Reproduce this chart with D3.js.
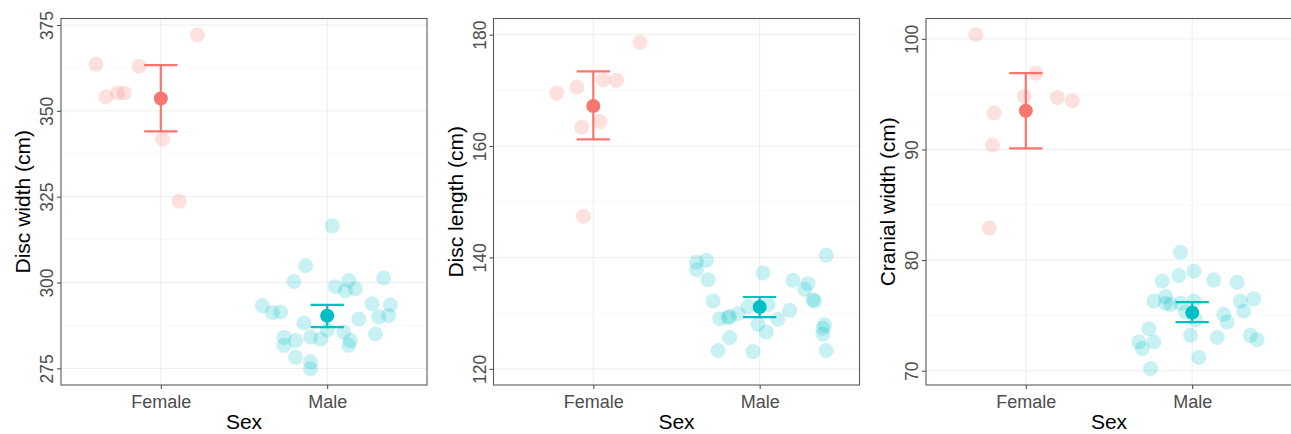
<!DOCTYPE html>
<html>
<head>
<meta charset="utf-8">
<script src="https://cdn.jsdelivr.net/npm/d3@7"></script>
<style>
  html, body { margin: 0; padding: 0; background: #fff; }
  svg { display: block; font-family: "Liberation Sans", Arial, Helvetica, sans-serif; }
</style>
</head>
<body>
<div id="chart"></div>
<script>
// --- data ---
const categories = ["Female", "Male"];
const colors = ["#F8766D", "#00BFC4"];

// disc width
const dwFemale = [363.6, 354.1, 355.2, 355.2, 363.0, 372.1, 341.8, 323.7];
const dwFemaleJit = [-0.39, -0.33, -0.26, -0.22, -0.13, 0.22, 0.01, 0.11];
const dwMale = [304.9, 300.3, 293.2, 291.3, 291.4, 288.2, 284.0, 281.7, 283.1, 278.2,
  284.1, 276.9, 274.9, 283.5, 286.2, 298.8, 300.6, 297.6, 298.2, 285.6,
  283.1, 281.7, 289.4, 293.8, 285.0, 301.3, 290.0, 290.4, 293.5, 316.5];
const dwMaleJit = [-0.13, -0.20, -0.39, -0.33, -0.28, -0.14, -0.26, -0.26, -0.19, -0.19,
  -0.10, -0.10, -0.10, -0.04, 0.00, 0.05, 0.13, 0.11, 0.17, 0.10,
  0.14, 0.13, 0.19, 0.27, 0.29, 0.34, 0.31, 0.37, 0.38, 0.03];
const dwMean = [353.6, 290.3];
const dwLow = [344.0, 287.0];
const dwHigh = [363.3, 293.5];
const dwTicks = [275, 300, 325, 350, 375];

// disc length
const dlFemale = [169.5, 170.6, 163.4, 164.4, 171.9, 171.8, 178.6, 147.4];
const dlFemaleJit = [-0.22, -0.10, -0.07, 0.04, 0.06, 0.14, 0.28, -0.06];
const dlMale = [139.2, 139.5, 137.8, 136.0, 132.2, 129.0, 129.2, 129.4, 129.9, 125.6,
  123.3, 123.1, 137.2, 131.2, 131.5, 128.0, 126.6, 128.9, 130.5, 135.9,
  135.3, 134.3, 132.4, 132.2, 140.4, 127.9, 127.3, 126.2, 123.3];
const dlMaleJit = [-0.38, -0.32, -0.38, -0.31, -0.28, -0.24, -0.19, -0.18, -0.13, -0.18,
  -0.25, -0.04, 0.02, -0.07, 0.05, -0.01, 0.04, 0.11, 0.18, 0.20,
  0.29, 0.27, 0.32, 0.33, 0.40, 0.39, 0.38, 0.38, 0.40];
const dlMean = [167.2, 131.1];
const dlLow = [161.2, 129.3];
const dlHigh = [173.4, 132.9];
const dlTicks = [120, 140, 160, 180];

// cranial width
const cwFemale = [100.4, 93.3, 90.4, 82.9, 94.8, 96.9, 94.7, 94.4];
const cwFemaleJit = [-0.30, -0.19, -0.20, -0.22, -0.01, 0.06, 0.19, 0.28];
const cwMale = [80.7, 78.1, 78.6, 79.0, 78.2, 78.0, 76.3, 76.7, 76.1, 76.0,
  76.1, 75.3, 76.3, 74.6, 73.2, 71.2, 73.0, 75.1, 74.4, 76.3,
  75.4, 76.5, 73.2, 72.8, 73.8, 72.6, 72.0, 72.6, 70.2];
const cwMaleJit = [-0.07, -0.18, -0.08, 0.01, 0.13, 0.27, -0.23, -0.16, -0.16, -0.13,
  -0.07, -0.04, 0.01, 0.02, -0.01, 0.04, 0.15, 0.19, 0.21, 0.29,
  0.31, 0.37, 0.35, 0.39, -0.26, -0.32, -0.30, -0.23, -0.25];
const cwMean = [93.5, 75.25];
const cwLow = [90.1, 74.4];
const cwHigh = [96.9, 76.2];
const cwTicks = [70, 80, 90, 100];

// --- panels ---
const W = 1291, H = 434;
const svg = d3.select("#chart").append("svg").attr("width", W).attr("height", H);

const panels = [
  { title: "Disc width (cm)", left: 61, domain: [270.15, 376.9], ticks: dwTicks,
    pts: [[dwFemale, dwFemaleJit], [dwMale, dwMaleJit]], mean: dwMean, lo: dwLow, hi: dwHigh },
  { title: "Disc length (cm)", left: 493.5, domain: [117.1, 182.9], ticks: dlTicks,
    pts: [[dlFemale, dlFemaleJit], [dlMale, dlMaleJit]], mean: dlMean, lo: dlLow, hi: dlHigh },
  { title: "Cranial width (cm)", left: 926, domain: [68.71, 101.84], ticks: cwTicks,
    pts: [[cwFemale, cwFemaleJit], [cwMale, cwMaleJit]], mean: cwMean, lo: cwLow, hi: cwHigh }
];

const pw = 366, panelTop = 18.5, panelBottom = 385;

panels.forEach(p => {
  const g = svg.append("g").attr("transform", `translate(${p.left},${panelTop})`);
  const ih = panelBottom - panelTop;

  // ggplot discrete scale: 0.6 expansion each side
  const xi = d3.scaleLinear().domain([0.4, 2.6]).range([0, pw]);
  const xc = c => xi(categories.indexOf(c) + 1);
  const y = d3.scaleLinear().domain(p.domain).range([ih, 0]);

  // grid
  const step = p.ticks[1] - p.ticks[0];
  const minor = [p.ticks[0] - step / 2].concat(p.ticks.map(t => t + step / 2))
    .filter(v => v > p.domain[0] && v < p.domain[1]);
  g.append("g").selectAll("line").data(minor).join("line")
    .attr("x1", 0).attr("x2", pw).attr("y1", d => y(d)).attr("y2", d => y(d))
    .attr("stroke", "#f3f3f3").attr("stroke-width", 0.6);
  g.append("g").selectAll("line").data(p.ticks).join("line")
    .attr("x1", 0).attr("x2", pw).attr("y1", d => y(d)).attr("y2", d => y(d))
    .attr("stroke", "#ededed").attr("stroke-width", 1);
  g.append("g").selectAll("line").data(categories).join("line")
    .attr("x1", d => xc(d)).attr("x2", d => xc(d)).attr("y1", 0).attr("y2", ih)
    .attr("stroke", "#ededed").attr("stroke-width", 1);

  // jittered points
  categories.forEach((c, i) => {
    const [vals, jit] = p.pts[i];
    g.append("g").selectAll("circle").data(vals).join("circle")
      .attr("cx", (d, k) => xi(i + 1 + jit[k]))
      .attr("cy", d => y(d))
      .attr("r", 7.5)
      .attr("fill", colors[i])
      .attr("fill-opacity", 0.22);
  });

  // error bars + means
  categories.forEach((c, i) => {
    const cx = xc(c), hw = (xi(1.1) - xi(1));
    const eb = g.append("g").attr("stroke", colors[i]).attr("stroke-width", 2.2);
    eb.append("line").attr("x1", cx).attr("x2", cx).attr("y1", y(p.lo[i])).attr("y2", y(p.hi[i]));
    eb.append("line").attr("x1", cx - hw).attr("x2", cx + hw).attr("y1", y(p.lo[i])).attr("y2", y(p.lo[i]));
    eb.append("line").attr("x1", cx - hw).attr("x2", cx + hw).attr("y1", y(p.hi[i])).attr("y2", y(p.hi[i]));
    g.append("circle").attr("cx", cx).attr("cy", y(p.mean[i])).attr("r", 7)
      .attr("fill", colors[i]);
  });

  // border
  g.append("rect").attr("x", 0).attr("y", 0).attr("width", pw).attr("height", ih)
    .attr("fill", "none").attr("stroke", "#5a5a5a").attr("stroke-width", 1.1);

  // y axis
  const ya = g.append("g").call(d3.axisLeft(y).tickValues(p.ticks).tickSize(4).tickPadding(0));
  ya.select(".domain").remove();
  ya.selectAll(".tick line").attr("stroke", "#444");
  ya.selectAll(".tick text")
    .attr("transform", "rotate(-90)")
    .attr("x", 0).attr("y", -8).attr("dy", 0)
    .attr("text-anchor", "middle")
    .attr("fill", "#4d4d4d")
    .style("font-size", "17.5px")
    .style("font-family", "'Liberation Sans', Arial, sans-serif");

  // x axis
  const xa = g.append("g").attr("transform", `translate(0,${ih})`)
    .call(d3.axisBottom(d3.scaleOrdinal().domain(categories).range(categories.map(xc)))
      .tickSize(4).tickPadding(4));
  xa.select(".domain").remove();
  xa.selectAll(".tick line").attr("stroke", "#444");
  xa.selectAll(".tick text")
    .attr("fill", "#4d4d4d")
    .attr("dy", "0.82em")
    .style("font-size", "18px")
    .style("font-family", "'Liberation Sans', Arial, sans-serif");

  // titles
  svg.append("text")
    .attr("x", p.left + pw / 2).attr("y", 429)
    .attr("text-anchor", "middle")
    .style("font-size", "21px").attr("fill", "#000")
    .text("Sex");
  svg.append("text")
    .attr("transform", `translate(${p.left - 31},${panelTop + ih / 2}) rotate(-90)`)
    .attr("text-anchor", "middle")
    .style("font-size", "21px").attr("fill", "#000")
    .text(p.title);
});
</script>
</body>
</html>
